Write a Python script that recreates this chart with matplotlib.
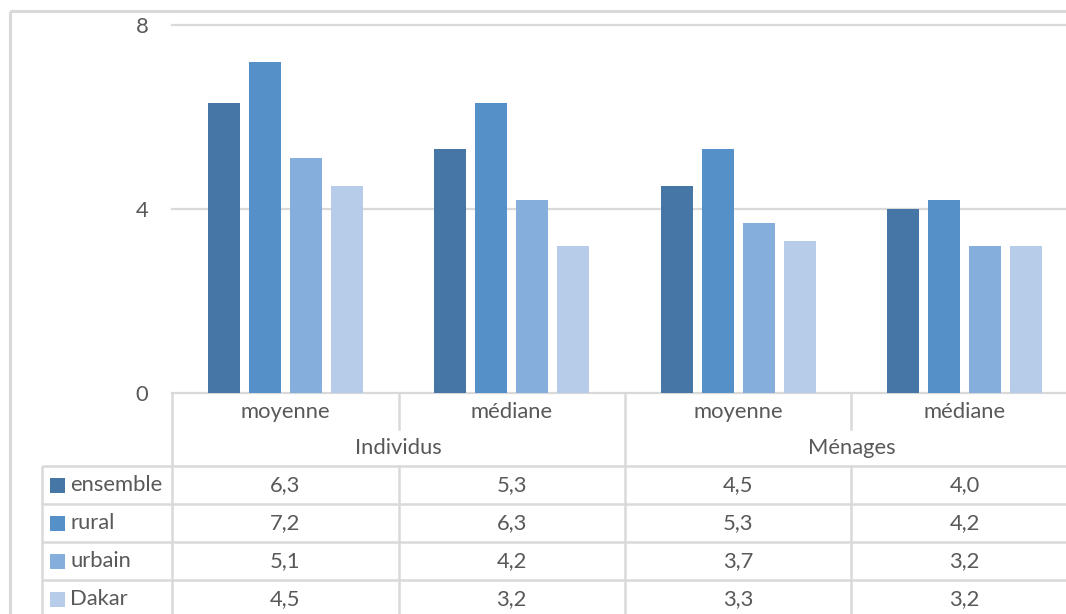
import matplotlib
matplotlib.use("Agg")
import matplotlib.pyplot as plt
from matplotlib.transforms import blended_transform_factory
from matplotlib.patches import Rectangle

# Data
categories = ["moyenne", "médiane", "moyenne", "médiane"]
groups = ["Individus", "Ménages"]
series = ["ensemble", "rural", "urbain", "Dakar"]
ensemble = [6.3, 5.3, 4.5, 4.0]
rural = [7.2, 6.3, 5.3, 4.2]
urbain = [5.1, 4.2, 3.7, 3.2]
dakar = [4.5, 3.2, 3.3, 3.2]
values = [ensemble, rural, urbain, dakar]
yticks = [0, 4, 8]

colors = ["#4676a6", "#5591c8", "#86aedc", "#b7cce8"]
grid_c = "#d9d9d9"
text_c = "#595959"
FONT = "Lato"
FS = 15.8

W, H = 1066, 614
fig = plt.figure(figsize=(W / 100, H / 100), dpi=100)

# Full-figure overlay in pixel coordinates (y downward)
ov = fig.add_axes([0, 0, 1, 1], zorder=0)
ov.set_xlim(0, W)
ov.set_ylim(H, 0)
ov.axis("off")

# Plot area: x 172..1078 px, y 25..393 px
px_l, px_r, px_t, px_b = 172, 1078, 25, 393
ax = fig.add_axes([px_l / W, 1 - px_b / H, (px_r - px_l) / W, (px_b - px_t) / H], zorder=1)
ax.patch.set_alpha(0)
n = len(categories)
ax.set_xlim(-0.5, n - 0.5)
ax.set_ylim(0, 8)

bw = 0.141
step = 0.181
for k, (name, vals) in enumerate(zip(series, values)):
    xs = [i + (k - 1.5) * step for i in range(n)]
    ax.bar(xs, vals, width=bw, color=colors[k], zorder=3, linewidth=0)

ax.set_yticks(yticks)
ax.set_yticklabels([str(t) for t in yticks], fontsize=FS, color=text_c, family=FONT)
ax.tick_params(axis="y", length=0, pad=17)
ax.set_xticks([])
for t in yticks:
    ax.axhline(t, color=grid_c, lw=1.6, zorder=1, clip_on=False)
for s in ax.spines.values():
    s.set_visible(False)

# Outer chart border
ov.plot([10, 10], [11, H + 5], color=grid_c, lw=2.2, solid_capstyle="butt")
ov.plot([10, W + 5], [11, 11], color=grid_c, lw=2.2, solid_capstyle="butt")

# Data table below the plot, columns aligned to the categories
tr = blended_transform_factory(ax.transData, ov.transData)
lw = 1.8
y_top, y_mid, y_hdr = 393, 429, 466
row_h = 38
row_tops = [y_hdr + row_h * r for r in range(len(series))]
y_end = H + 10

def hline(y, x0px):
    ov.plot([x0px, W + 5], [y, y], color=grid_c, lw=lw, solid_capstyle="butt", clip_on=False)

# vertical column boundaries
for b in range(n + 1):
    xb = b - 0.5
    if b % 2 == 1:
        ax.plot([xb, xb], [y_top, y_mid], transform=tr, color=grid_c, lw=lw, clip_on=False)
        ax.plot([xb, xb], [y_hdr, y_end], transform=tr, color=grid_c, lw=lw, clip_on=False)
    else:
        ax.plot([xb, xb], [y_top, y_end], transform=tr, color=grid_c, lw=lw, clip_on=False)

# left edge of legend column
ov.plot([42, 42], [y_hdr, y_end], color=grid_c, lw=lw, solid_capstyle="butt")
for yt in row_tops:
    hline(yt, 42)

# category labels and group labels
for i, c in enumerate(categories):
    ax.text(i, (y_top + y_mid) / 2 + 1, c, transform=tr, ha="center", va="center",
            fontsize=FS, color=text_c, family=FONT, clip_on=False)
for g, name in enumerate(groups):
    ax.text(2 * g + 0.5, (y_mid + y_hdr) / 2 + 1, name, transform=tr, ha="center", va="center",
            fontsize=FS, color=text_c, family=FONT, clip_on=False)

# legend keys and values
for k, (name, vals) in enumerate(zip(series, values)):
    yc = row_tops[k] + row_h / 2
    ov.add_patch(Rectangle((50, yc - 7.5), 15, 15, color=colors[k], lw=0))
    ov.text(70, yc, name, ha="left", va="center", fontsize=FS, color=text_c, family=FONT)
    for i, v in enumerate(vals):
        ax.text(i, yc, f"{v:.1f}".replace(".", ","), transform=tr, ha="center", va="center",
                fontsize=FS, color=text_c, family=FONT, clip_on=False)

fig.savefig("out.png", dpi=100)
